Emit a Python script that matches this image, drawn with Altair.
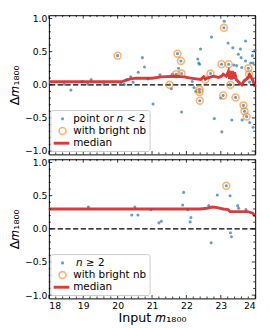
import altair as alt
import pandas as pd

# ---------------- data ----------------
top_x = [18.45, 18.64, 18.97, 19.13, 19.23, 19.60, 20.00, 20.09, 20.19, 20.26, 20.38, 20.45, 20.60, 20.72, 20.78, 20.88,
         21.03, 21.23, 21.51, 21.56, 21.59, 21.70, 21.74, 21.77, 21.84, 21.86, 21.86,
         22.17, 22.22, 22.27, 22.33, 22.36, 22.38, 22.41, 22.38, 22.38, 22.39, 22.55, 22.70, 22.73, 22.81,
         23.00, 23.02, 23.03, 23.07, 23.09, 23.10, 23.21, 23.23, 23.26, 23.28, 23.32, 23.35, 23.38, 23.43, 23.46,
         23.51, 23.57, 23.59, 23.62, 23.61, 23.66, 23.69, 23.72, 23.72, 23.75, 23.79, 23.80, 23.82, 23.84, 23.84,
         23.87, 23.92, 23.94, 23.94, 23.99]
top_y = [0.01, -0.08, 0.05, 0.01, 0.08, 0.01, 0.44, 0.01, 0.01, 0.08, 0.12, 0.04, 0.19, 0.41, 0.27, 0.09,
         -0.29, 0.15, 0.00, -0.06, 0.16, 0.16, 0.47, 0.25, 0.36, 0.17, -0.41,
         0.05, -0.04, -0.10, 0.39, 0.33, 0.31, 0.54, -0.07, -0.11, -0.24, 0.08, 0.17, 0.72, -0.51,
         -0.20, 0.31, -0.71, -0.16, 0.86, 0.96, 0.63, 0.31, 0.00, 0.00, -0.53, 0.56, 0.30, -0.19, 0.29,
         0.46, 0.54, 0.41, -0.53, 0.26, -0.31, -0.40, 0.66, 0.36, -0.48, 0.11, 0.25, 0.16, 0.04, -0.57,
         0.33, 0.44, 0.33, -0.64, 0.52]
top_nb_x = [20.00, 21.51, 21.70, 21.74, 21.84, 21.86, 22.38, 22.38, 22.39, 22.55, 22.70, 23.02, 23.07, 23.09,
            23.23, 23.28, 23.43, 23.66, 23.69, 23.75, 23.80, 23.82]
top_nb_y = [0.44, 0.00, 0.16, 0.47, 0.36, 0.17, -0.07, -0.11, -0.24, 0.08, 0.17, 0.31, -0.16, 0.86,
            0.31, 0.00, -0.19, -0.31, -0.40, -0.48, 0.25, 0.16]
top_med_x = [18.0, 20.10, 20.35, 20.52, 21.00, 21.27, 21.65, 21.93, 22.12, 22.41, 22.50, 22.55, 22.78, 22.93,
             23.02, 23.07, 23.16, 23.22, 23.25, 23.28, 23.31, 23.34, 23.37, 23.40, 23.45, 23.54, 23.61,
             23.68, 23.78, 23.84, 23.92, 24.0]
top_med_y = [0.045, 0.045, 0.085, 0.10, 0.10, 0.12, 0.13, 0.12, 0.10, 0.08, 0.12, 0.09, 0.13, 0.11,
             0.13, 0.16, 0.13, 0.20, 0.09, 0.21, 0.08, 0.21, 0.09, 0.19, 0.08, 0.03, 0.00,
             0.06, 0.10, 0.15, 0.08, -0.03]

bot_x = [19.15, 20.41, 20.50, 20.59, 20.97, 21.20, 21.27, 21.89, 21.92, 22.04, 22.13, 22.11, 22.65, 22.72,
         22.90, 23.16, 23.27, 23.28, 23.31, 23.49, 23.52, 23.73]
bot_y = [0.33, 0.21, 0.33, 0.21, 0.29, 0.09, 0.115, 0.36, 0.55, 0.29, 0.17, 0.105, 0.35, -0.21,
         0.51, 0.65, 0.50, -0.06, -0.12, 0.35, 0.31, 0.29]
bot_nb_x = [23.16]
bot_nb_y = [0.65]
bot_med_x = [18.0, 22.40, 22.60, 22.75, 22.90, 23.07, 23.21, 23.27, 23.78, 23.92, 24.0]
bot_med_y = [0.30, 0.30, 0.31, 0.33, 0.32, 0.30, 0.29, 0.26, 0.26, 0.24, 0.19]

x_major = [18, 19, 20, 21, 22, 23, 24]
x_minor = [18.2, 18.4, 18.6, 18.8, 19.2, 19.4, 19.6, 19.8, 20.2, 20.4, 20.6, 20.8,
           21.2, 21.4, 21.6, 21.8, 22.2, 22.4, 22.6, 22.8, 23.2, 23.4, 23.6, 23.8]
y_major = [-1.0, -0.5, 0.0, 0.5, 1.0]
y_minor = [-0.9, -0.8, -0.7, -0.6, -0.4, -0.3, -0.2, -0.1, 0.1, 0.2, 0.3, 0.4, 0.6, 0.7, 0.8, 0.9]

# ---------------- styling ----------------
W, H = 212, 143
FONT = "DejaVu Sans"
BLUE = "#1f77b4"
ORANGE = "#ff7f0e"
RED = "#d62728"

xs = alt.Scale(domain=[18, 24], nice=False, zero=False)
ys = alt.Scale(domain=[-1.05, 1.05], nice=False, zero=False)


def panel(px, py, nbx, nby, mx, my, bottom, legend_parts):
    if bottom:
        xaxis = alt.Axis(values=x_major, format="d", ticks=False, domain=False, grid=False,
                         labelPadding=2, title="Input 𝑚₁₈₀₀", titlePadding=2)
    else:
        xaxis = None
    yaxis = alt.Axis(values=y_major, format=".1f", ticks=False, domain=False, grid=False,
                     labelPadding=2, title="Δ𝑚₁₈₀₀", titlePadding=3)

    def X(f):
        return alt.X(f"{f}:Q", scale=xs, axis=xaxis)

    def Y(f):
        return alt.Y(f"{f}:Q", scale=ys, axis=yaxis)

    pts = pd.DataFrame({"x": px, "y": py})
    nb = pd.DataFrame({"x": nbx, "y": nby})
    med = pd.DataFrame({"x": mx, "y": my, "i": list(range(len(mx)))})

    zero = alt.Chart(pd.DataFrame({"y": [0.0]})).mark_rule(
        color="black", strokeDash=[5.5, 2.4], strokeWidth=1.3).encode(y=Y("y"))
    blue = alt.Chart(pts).mark_circle(color=BLUE, opacity=0.7, size=10).encode(x=X("x"), y=Y("y"))
    orange = alt.Chart(nb).mark_point(shape="circle", filled=False, color=ORANGE, opacity=0.6,
                                      size=50, strokeWidth=1.6).encode(x=X("x"), y=Y("y"))
    line = alt.Chart(med).mark_line(color=RED, strokeWidth=3, opacity=0.9).encode(
        x=X("x"), y=Y("y"), order="i:Q")

    layers = [zero, blue, orange, line]

    # inward ticks on all four sides
    xmj = pd.DataFrame({"v": x_major})
    xmn = pd.DataFrame({"v": x_minor})
    ymj = pd.DataFrame({"v": y_major})
    ymn = pd.DataFrame({"v": y_minor})
    for df, L in ((xmj, 3.5), (xmn, 2.0)):
        layers.append(alt.Chart(df).mark_rule(color="black", strokeWidth=0.8).encode(
            x=X("v"), y=alt.value(H), y2=alt.value(H - L)))
        layers.append(alt.Chart(df).mark_rule(color="black", strokeWidth=0.8).encode(
            x=X("v"), y=alt.value(0), y2=alt.value(L)))
    for df, L in ((ymj, 3.5), (ymn, 2.0)):
        layers.append(alt.Chart(df).mark_rule(color="black", strokeWidth=0.8).encode(
            y=Y("v"), x=alt.value(0), x2=alt.value(L)))
        layers.append(alt.Chart(df).mark_rule(color="black", strokeWidth=0.8).encode(
            y=Y("v"), x=alt.value(W), x2=alt.value(W - L)))

    # legend
    one = pd.DataFrame({"a": [0]})
    box = alt.Chart(one).mark_rect(fill="white", fillOpacity=0.8, stroke="#cccccc",
                                   strokeWidth=1, cornerRadius=2).encode(
        x=alt.value(2), x2=alt.value(104), y=alt.value(98), y2=alt.value(140))
    layers.append(box)
    r1, r2, r3 = 106.5, 119.0, 131.5
    layers.append(alt.Chart(one).mark_circle(color=BLUE, opacity=0.7, size=10).encode(
        x=alt.value(14), y=alt.value(r1)))
    layers.append(alt.Chart(one).mark_point(shape="circle", filled=False, color=ORANGE, opacity=0.6,
                                            size=50, strokeWidth=1.6).encode(x=alt.value(14), y=alt.value(r2)))
    layers.append(alt.Chart(one).mark_rule(color=RED, strokeWidth=3, opacity=0.9).encode(
        x=alt.value(5), x2=alt.value(21), y=alt.value(r3)))
    for txt, xpos, row, style in legend_parts:
        ypos = (r1, r2, r3)[row]
        layers.append(alt.Chart(pd.DataFrame({"t": [txt]})).mark_text(
            align="left", baseline="middle", font=FONT, fontSize=10.7, fontStyle=style,
            color="black").encode(x=alt.value(xpos), y=alt.value(ypos), text="t:N"))

    return alt.layer(*layers).properties(width=W, height=H)


top = panel(top_x, top_y, top_nb_x, top_nb_y, top_med_x, top_med_y, False,
            [("point or", 25, 0, "normal"), ("n", 69.5, 0, "italic"), ("< 2", 80, 0, "normal"),
             ("with bright nb", 25, 1, "normal"), ("median", 25, 2, "normal")])
bot = panel(bot_x, bot_y, bot_nb_x, bot_nb_y, bot_med_x, bot_med_y, True,
            [("n", 28, 0, "italic"), ("≥ 2", 38, 0, "normal"),
             ("with bright nb", 25, 1, "normal"), ("median", 25, 2, "normal")])

chart = alt.vconcat(top, bot, spacing=0).properties(
    padding={"left": 0, "top": 0, "right": 0, "bottom": 0}
).configure(background="white").configure_view(stroke="black", strokeWidth=1).configure_axis(
    labelFont=FONT, labelFontSize=9.5, labelColor="black",
    titleFont=FONT, titleFontSize=13, titleFontWeight="normal", titleColor="black"
)

chart.save("out.html", embed_options={"renderer": "svg", "actions": False})
